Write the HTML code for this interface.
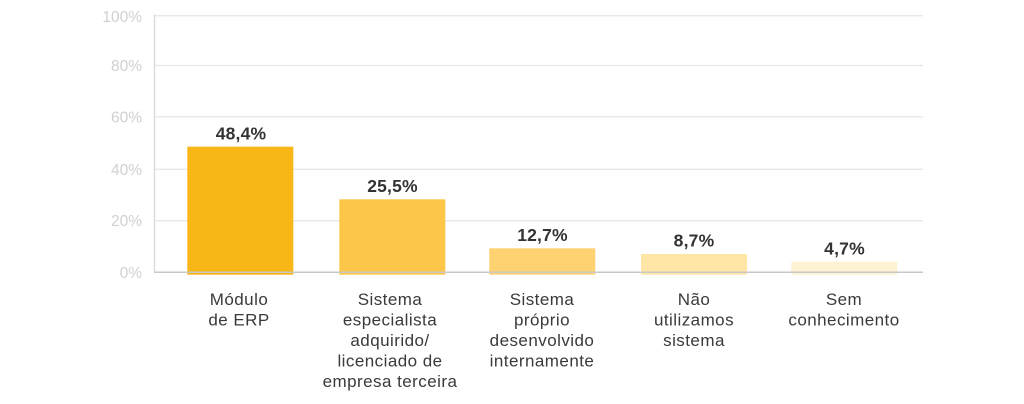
<!DOCTYPE html>
<html>
<head>
<meta charset="utf-8">
<style>
  html, body { margin: 0; padding: 0; background: #ffffff; }
  body { width: 1024px; height: 404px; overflow: hidden; }
  svg { display: block; }
  .tick { font-family: "Liberation Sans", sans-serif; font-size: 15.5px; fill: #d0d0d0; }
  .val { font-family: "Liberation Sans", sans-serif; font-size: 17.5px; font-weight: bold; fill: #333333; letter-spacing: 0.2px; }
  .cat { font-family: "Liberation Sans", sans-serif; font-size: 17px; fill: #3a3a3a; letter-spacing: 0.45px; }
</style>
</head>
<body>
<svg width="1024" height="404" viewBox="0 0 1024 404" xmlns="http://www.w3.org/2000/svg">
  <!-- gridlines -->
  <g stroke="#e8e8e8" stroke-width="1.3">
    <line x1="154" y1="15.7" x2="923" y2="15.7"/>
    <line x1="154" y1="65.5" x2="923" y2="65.5"/>
    <line x1="154" y1="116.8" x2="923" y2="116.8"/>
    <line x1="154" y1="169.3" x2="923" y2="169.3"/>
    <line x1="154" y1="220.7" x2="923" y2="220.7"/>
  </g>
  <!-- y axis -->
  <line x1="154.5" y1="14.5" x2="154.5" y2="272.5" stroke="#d8d8d8" stroke-width="1.3"/>

  <!-- bars -->
  <rect x="187.3" y="146.7" width="106" height="128" fill="#f9b717"/>
  <rect x="339.3" y="199.3" width="106" height="75.4" fill="#fcc748"/>
  <rect x="489.3" y="248.3" width="106" height="26.4" fill="#fed271"/>
  <rect x="641" y="254" width="106" height="20.7" fill="#ffe5a6"/>
  <rect x="791.3" y="261.7" width="106" height="13" fill="#fff2d2"/>

  <!-- x axis -->
  <line x1="154" y1="272.2" x2="923" y2="272.2" stroke="#c8c8c8" stroke-width="1.5"/>

  <!-- y tick labels -->
  <g class="tick" text-anchor="end">
    <text x="142" y="22">100%</text>
    <text x="142" y="71">80%</text>
    <text x="142" y="122.3">60%</text>
    <text x="142" y="174.8">40%</text>
    <text x="142" y="226.2">20%</text>
    <text x="142" y="278">0%</text>
  </g>

  <!-- value labels -->
  <g class="val" text-anchor="middle">
    <text x="241" y="139.5">48,4%</text>
    <text x="392.5" y="192">25,5%</text>
    <text x="542.5" y="241">12,7%</text>
    <text x="694" y="246.5">8,7%</text>
    <text x="844.5" y="254.5">4,7%</text>
  </g>

  <!-- category labels -->
  <g class="cat" text-anchor="middle">
    <text x="239" y="305">Módulo</text>
    <text x="239" y="325.5">de ERP</text>

    <text x="390" y="305">Sistema</text>
    <text x="390" y="325.5">especialista</text>
    <text x="390" y="346">adquirido/</text>
    <text x="390" y="366.5">licenciado de</text>
    <text x="390" y="387">empresa terceira</text>

    <text x="542" y="305">Sistema</text>
    <text x="542" y="325.5">próprio</text>
    <text x="542" y="346">desenvolvido</text>
    <text x="542" y="366.5">internamente</text>

    <text x="694" y="305">Não</text>
    <text x="694" y="325.5">utilizamos</text>
    <text x="694" y="346">sistema</text>

    <text x="844" y="305">Sem</text>
    <text x="844" y="325.5">conhecimento</text>
  </g>
</svg>
</body>
</html>
